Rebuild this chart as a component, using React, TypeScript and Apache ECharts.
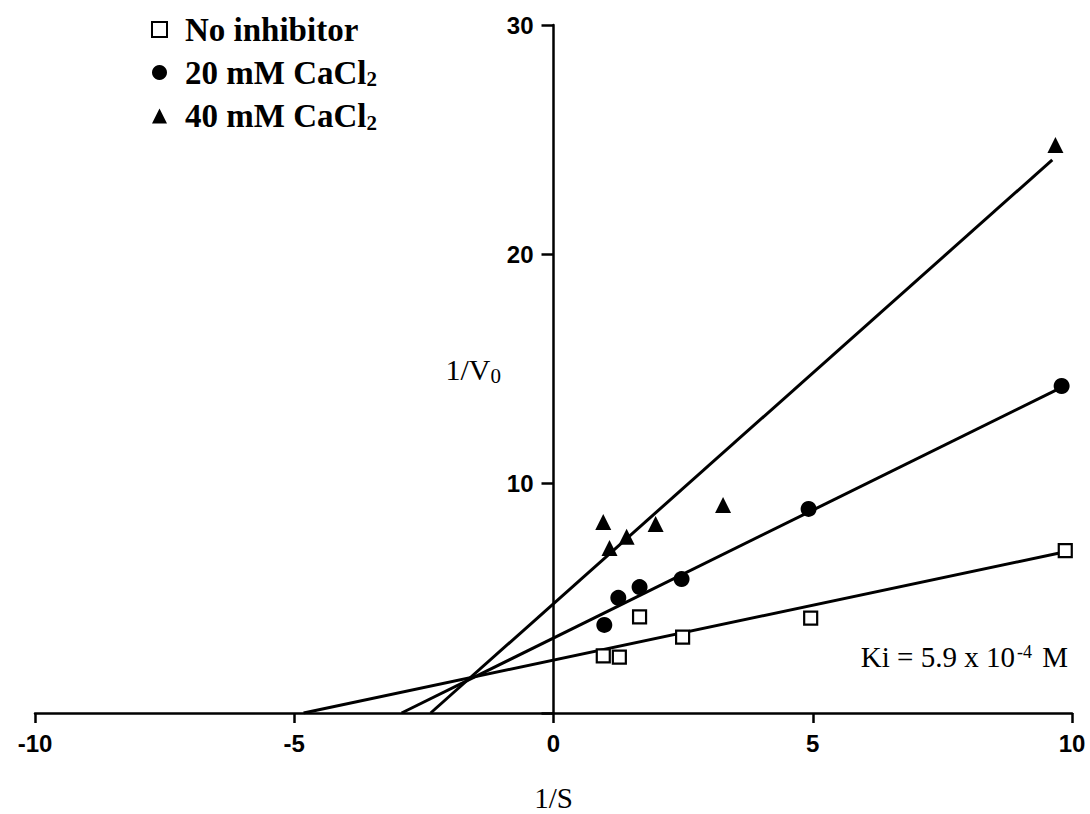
import React, { useEffect, useRef } from "react";
import * as echarts from "echarts";

// ---- Data ----
const seriesNames = ["No inhibitor", "20 mM CaCl2", "40 mM CaCl2"];

const xNoInh = [0.96, 1.27, 1.66, 2.49, 4.96, 9.87];
const yNoInh = [2.49, 2.44, 4.19, 3.31, 4.14, 7.08];

const x20 = [0.98, 1.25, 1.66, 2.47, 4.92, 9.8];
const y20 = [3.84, 5.02, 5.49, 5.84, 8.9, 14.26];

const x40 = [0.96, 1.08, 1.41, 1.97, 3.27, 9.68];
const y40 = [8.33, 7.2, 7.68, 8.24, 9.07, 24.77];

// fitted lines (start at x-intercept, end near last point)
const fitNoInhX = [-4.82, 9.85];
const fitNoInhY = [0, 7.02];
const fit20X = [-2.93, 9.8];
const fit20Y = [0, 14.2];
const fit40X = [-2.37, 9.62];
const fit40Y = [0, 24.12];

const xTicks = [-10, -5, 0, 5, 10];
const yTicks = [0, 10, 20, 30];

const zip = (xs: number[], ys: number[]) => xs.map((x, i) => [x, ys[i]]);

const SERIF = "'Liberation Serif', 'Times New Roman', serif";
const SANS = "'Liberation Sans', Arial, sans-serif";

const WIDTH = 1090;
const HEIGHT = 814;
const GRID_LEFT = 35;
const GRID_RIGHT = 18;

export default function App() {
  const ref = useRef<HTMLDivElement>(null);

  useEffect(() => {
    if (!ref.current) return;
    const chart = echarts.init(ref.current, null, { renderer: "svg" });

    const lineSeries = (name: string, xs: number[], ys: number[]) => ({
      name,
      type: "line",
      data: zip(xs, ys),
      showSymbol: false,
      silent: true,
      lineStyle: { color: "#000", width: 3 },
      z: 2,
    });

    // y axis sits at x = 0 of the x axis: shift it from the grid's left edge
    const xMin = xTicks[0];
    const xMax = xTicks[xTicks.length - 1];
    const plotW = WIDTH - GRID_LEFT - GRID_RIGHT;
    const yAxisOffset = -((0 - xMin) / (xMax - xMin)) * plotW;

    chart.setOption({
      animation: false,
      backgroundColor: "#fff",
      grid: {
        left: GRID_LEFT,
        right: GRID_RIGHT,
        top: 25,
        bottom: 101,
        containLabel: false,
        outerBoundsMode: "none",
      },
      legend: {
        data: seriesNames,
        orient: "vertical",
        left: 146,
        top: 8,
        itemWidth: 15,
        itemHeight: 15,
        itemGap: 10,
        selectedMode: false,
        formatter: (name: string) =>
          name.endsWith("CaCl2")
            ? `{t|${name.slice(0, -1)}}{sub|2}`
            : `{t|${name}}`,
        textStyle: {
          color: "#000",
          padding: [0, 0, 0, 13],
          rich: {
            t: { fontFamily: SERIF, fontWeight: "bold", fontSize: 33, lineHeight: 33, color: "#000" },
            sub: { fontFamily: SERIF, fontWeight: "bold", fontSize: 21, padding: [13, 0, 0, 0], color: "#000" },
          },
        },
      },
      xAxis: {
        type: "value",
        min: xMin,
        max: xMax,
        interval: 5,
        name: "1/S",
        nameLocation: "middle",
        nameGap: 70,
        nameTextStyle: { fontFamily: SERIF, fontSize: 29, color: "#000" },
        axisLine: { onZero: false, lineStyle: { color: "#000", width: 2.5 } },
        axisTick: { show: true, inside: false, length: 10, lineStyle: { color: "#000", width: 2.5 } },
        axisLabel: { fontFamily: SANS, fontWeight: "bold", fontSize: 24, color: "#000", margin: 18 },
        splitLine: { show: false },
      },
      yAxis: {
        type: "value",
        min: yTicks[0],
        max: yTicks[yTicks.length - 1],
        interval: 10,
        offset: yAxisOffset,
        name: "{v|1/V}{sub|0}",
        nameLocation: "middle",
        nameRotate: 0,
        nameGap: 38,
        nameTextStyle: {
          rich: {
            v: { fontFamily: SERIF, fontSize: 30, color: "#000" },
            sub: { fontFamily: SERIF, fontSize: 21, color: "#000", padding: [13, 0, 0, 0] },
          },
        },
        axisLine: { onZero: false, lineStyle: { color: "#000", width: 2.5 } },
        axisTick: { show: true, inside: false, length: 12, lineStyle: { color: "#000", width: 2.5 } },
        axisLabel: {
          fontFamily: SANS,
          fontWeight: "bold",
          fontSize: 24,
          color: "#000",
          margin: 20,
          formatter: (v: number) => (v === 0 ? "" : String(v)),
        },
        splitLine: { show: false },
      },
      series: [
        lineSeries("fit-none", fitNoInhX, fitNoInhY),
        lineSeries("fit-20", fit20X, fit20Y),
        lineSeries("fit-40", fit40X, fit40Y),
        {
          name: seriesNames[0],
          type: "scatter",
          data: zip(xNoInh, yNoInh),
          symbol: "rect",
          symbolSize: 13,
          itemStyle: { color: "#fff", borderColor: "#000", borderWidth: 2.2, opacity: 1 },
          z: 3,
        },
        {
          name: seriesNames[1],
          type: "scatter",
          data: zip(x20, y20),
          symbol: "circle",
          symbolSize: 16,
          itemStyle: { color: "#000", opacity: 1 },
          z: 3,
        },
        {
          name: seriesNames[2],
          type: "scatter",
          data: zip(x40, y40),
          symbol: "triangle",
          symbolSize: 16,
          itemStyle: { color: "#000", opacity: 1 },
          z: 3,
        },
      ],
      graphic: [
        {
          type: "text",
          right: 22,
          top: 642,
          style: {
            text: "{a|Ki = 5.9 x 10}{s|-4}{a| M}",
            rich: {
              a: { fontFamily: SERIF, fontSize: 29, fill: "#000", color: "#000" },
              s: { fontFamily: SERIF, fontSize: 18, fill: "#000", color: "#000", padding: [0, 3, 9, 2] },
            },
          },
        },
      ],
    });

    return () => chart.dispose();
  }, []);

  return (
    <div
      ref={ref}
      style={{ position: "fixed", left: 0, top: 0, width: WIDTH, height: HEIGHT }}
    />
  );
}
